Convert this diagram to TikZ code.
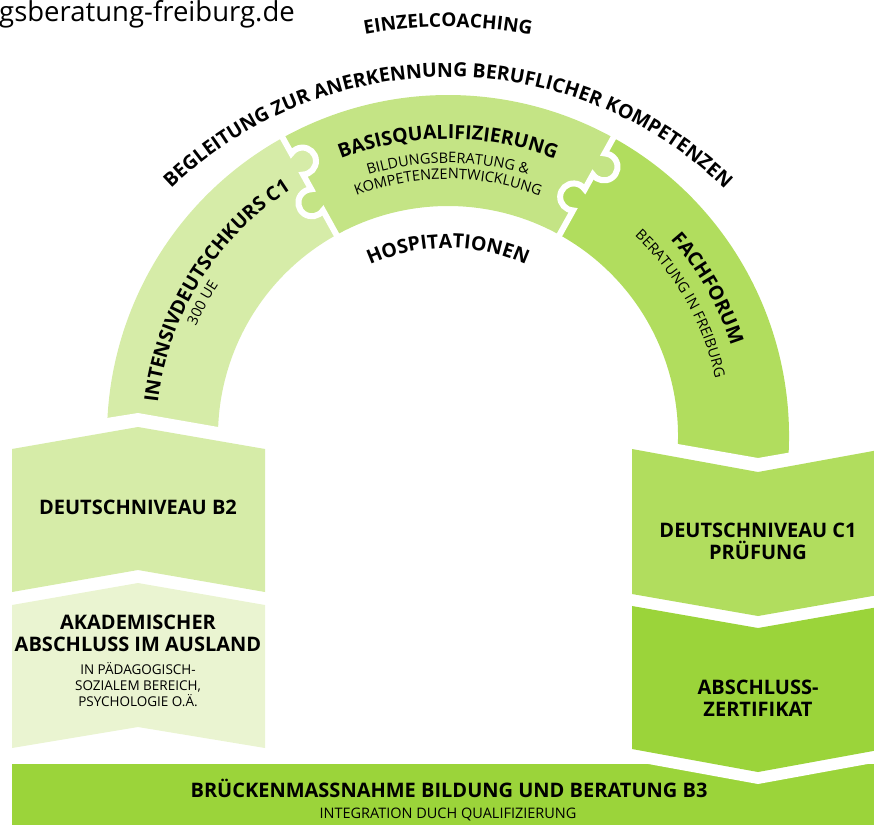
\documentclass[tikz,border=0pt]{standalone}
\usepackage{fontspec}
\setmainfont{Open Sans}
\usetikzlibrary{calc,decorations.text}
\definecolor{cA}{HTML}{EAF4D1}
\definecolor{cI}{HTML}{D6ECA8}
\definecolor{cB}{HTML}{C4E485}
\definecolor{cF}{HTML}{B1DD5E}
\definecolor{cZ}{HTML}{9BD43A}
\newcommand{\arcb}{\fontsize{19.5}{22}\selectfont\bfseries}
\newcommand{\arcbs}{\fontsize{19}{22}\selectfont\bfseries}
\newcommand{\arcr}{\fontsize{14.5}{17}\selectfont}
% #1 visual angle of division, #2 colour of CCW piece, #3 colour of CW piece
\newcommand{\knobdiv}[3]{%
  \begin{scope}[shift={(C)}, rotate=#1]
    \fill[#2] (311,6) circle[radius=13.5];
    \fill[#3] (270,-6) circle[radius=13.5];
    \draw[gapline] (222,0) -- (257.91,0)
      arc[start angle=153.6, end angle=386.4, radius=13.5]
      -- (298.91,0)
      arc[start angle=206.4, end angle=-26.4, radius=13.5]
      -- (352,0);
  \end{scope}}
\begin{document}
\begin{tikzpicture}[x=1pt,y=-1pt,
  gapline/.style={white, line width=6pt},
  arctext/.style={decorate, decoration={text along path, text align=center, text={#1}}},
  boxtitle/.style={anchor=base, align=center, inner sep=0pt, font=\fontsize{20}{22}\selectfont\bfseries},
  boxsub/.style={anchor=base, align=center, inner sep=0pt, font=\fontsize{14.5}{16}\selectfont}]
\useasboundingbox (0,0) rectangle (874,825);
\clip (0,0) rectangle (874,825);
\coordinate (C) at (448,436);
\coordinate (T) at (448,475);
\coordinate (H) at (448,435);

% arch sectors
\fill[cI] ($(C)+(-195:341)$) arc[start angle=-195, end angle=-119, radius=341]
  -- ($(C)+(-119:230)$) arc[start angle=-119, end angle=-195, radius=230] -- cycle;
\fill[cB] ($(C)+(-119:341)$) arc[start angle=-119, end angle=-61, radius=341]
  -- ($(C)+(-61:230)$) arc[start angle=-61, end angle=-119, radius=230] -- cycle;
\fill[cF] ($(C)+(-61:341)$) arc[start angle=-61, end angle=15, radius=341]
  -- ($(C)+(15:230)$) arc[start angle=15, end angle=-61, radius=230] -- cycle;

% puzzle joints
\knobdiv{119}{cI}{cB}
\knobdiv{61}{cB}{cF}

% cuts at the arch ends
\fill[white] (0,435) -- (138,413) -- (280,437.8) -- (280,470) -- (0,470) -- cycle;
\fill[white] (600,430.4) -- (758,458) -- (900,433.2) -- (900,480) -- (600,480) -- cycle;

% bottom bar
\fill[cZ] (12,764) -- (874,764) -- (874,825) -- (12,825) -- cycle;
\fill[white] (620,740) -- (620,758.8) -- (758,784) -- (896,758.8) -- (896,740) -- cycle;

% boxes
\fill[cI] (12,449) -- (138,427) -- (265,449) -- (265,592) -- (138,570) -- (12,592) -- cycle;
\fill[cA] (12,605) -- (138,583) -- (265,605) -- (265,748) -- (138,727) -- (12,748) -- cycle;
\fill[cF] (632,449) -- (758,472) -- (884,449) -- (884,594) -- (758,616) -- (632,594) -- cycle;
\fill[cZ] (632,606) -- (758,628) -- (884,606) -- (884,749) -- (758,772) -- (632,749) -- cycle;

% texts on arcs
\path[arctext={|\arcbs|EINZELCOACHING}] ($(T)+(-115:448)$) arc[start angle=-115, end angle=-65, radius=448];
\path[arctext={|\arcb|BEGLEITUNG ZUR ANERKENNUNG BERUFLICHER KOMPETENZEN}] ($(T)+(-150:398)$) arc[start angle=-150, end angle=-30, radius=398];
\path[arctext={|\arcb|HOSPITATIONEN}] ($(H)+(-130:187)$) arc[start angle=-130, end angle=-50, radius=187];
\path[arctext={|\arcb|BASISQUALIFIZIERUNG}] ($(C)+(-125:297)$) arc[start angle=-125, end angle=-55, radius=297];
\path[arctext={|\arcr|BILDUNGSBERATUNG {\&}}] ($(C)+(-125:273)$) arc[start angle=-125, end angle=-55, radius=273];
\path[arctext={|\arcr|KOMPETENZENTWICKLUNG}] ($(C)+(-125:257)$) arc[start angle=-125, end angle=-55, radius=257];
\path[arctext={|\arcb|INTENSIVDEUTSCHKURS C1}] ($(C)+(-188:292)$) arc[start angle=-188, end angle=-108, radius=292];
\path[arctext={|\arcr|300 UE}] ($(C)+(-171.5:275)$) arc[start angle=-171.5, end angle=-131.5, radius=275];
\path[arctext={|\arcb|FACHFORUM}] ($(C)+(-59.6:297)$) arc[start angle=-59.6, end angle=0.4, radius=297];
\path[arctext={|\arcr|BERATUNG IN FREIBURG}] ($(C)+(-59.6:273.5)$) arc[start angle=-59.6, end angle=0.4, radius=273.5];

% box texts
\node[anchor=base west, inner sep=0pt, font=\fontsize{27.5}{30}\selectfont] (url) at (-1,21) {gsberatung-freiburg.de};
\node[boxtitle] (b2) at (138,514) {DEUTSCHNIVEAU B2};
\node[boxtitle] (akad) at (138,651) {AKADEMISCHER\\ABSCHLUSS IM AUSLAND};
\node[boxsub, font=\fontsize{13.5}{16}\selectfont] (akadsub) at (138,706) {IN PÄDAGOGISCH-\\SOZIALEM BEREICH,\\PSYCHOLOGIE O.Ä.};
\node[boxtitle] (c1) at (758,559) {DEUTSCHNIVEAU C1\\PRÜFUNG};
\node[boxtitle] (absch) at (758,716.5) {ABSCHLUSS-\\ZERTIFIKAT};
\node[boxtitle] (bar) at (449,797) {BRÜCKENMASSNAHME BILDUNG UND BERATUNG B3};
\node[boxsub] (barsub) at (448,818) {INTEGRATION DUCH QUALIFIZIERUNG};
\end{tikzpicture}
\end{document}
